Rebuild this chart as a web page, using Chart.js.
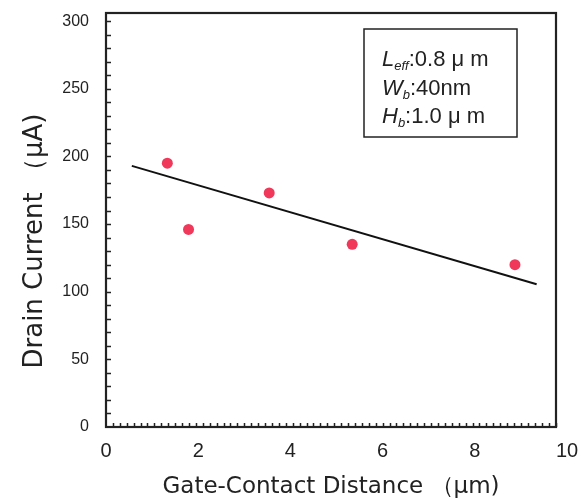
<!DOCTYPE html>
<html>
<head>
<meta charset="utf-8">
<script src="https://cdn.jsdelivr.net/npm/chart.js@4"></script>
<style>
  html, body { margin: 0; padding: 0; background: #fff; }
</style>
</head>
<body>
<canvas id="currentChart" width="582" height="500"></canvas>
<script>
// measured points
const distance = [1.33, 1.79, 3.54, 5.34, 8.87];
const current = [195, 146, 173, 135, 120];

// fitted line, end points only
const fitDistance = [0.56, 9.34];
const fitCurrent = [193, 105.5];

// axis ticks
const xTicks = [0, 2, 4, 6, 8, 10];
const yTicks = [0, 50, 100, 150, 200, 250, 300];
const xMinorStep = 0.15;
const yMinorStep = 10;

const xTitle = 'Gate-Contact Distance （μm)';
const yTitle = 'Drain Current （μA)';

// condition box: main letter, subscript, rest
const noteLines = [
  ['L', 'eff', ':0.8 μ m'],
  ['W', 'b', ':40nm'],
  ['H', 'b', ':1.0 μ m']
];

// frame + small inward ticks
const frame = {
  id: 'frame',
  beforeDatasetsDraw(chart) {
    const { ctx, chartArea: a, scales } = chart;
    ctx.save();
    ctx.strokeStyle = '#222';
    ctx.lineWidth = 1.5;
    ctx.beginPath();
    const nx = Math.floor(scales.x.max / xMinorStep + 1e-6);
    for (let i = 1; i <= nx; i++) {
      const px = Math.round(scales.x.getPixelForValue(i * xMinorStep)) + 0.5;
      ctx.moveTo(px, a.bottom);
      ctx.lineTo(px, a.bottom - 4);
    }
    const ny = Math.floor(scales.y.max / yMinorStep + 1e-6);
    for (let i = 1; i <= ny; i++) {
      const py = Math.round(scales.y.getPixelForValue(i * yMinorStep)) + 0.5;
      ctx.moveTo(a.left, py);
      ctx.lineTo(a.left + 5, py);
    }
    ctx.stroke();
    ctx.lineWidth = 2.2;
    ctx.strokeRect(a.left, a.top, a.right - a.left, a.bottom - a.top);
    ctx.restore();
  }
};

const labels = {
  id: 'labels',
  afterDraw(chart) {
    const { ctx, chartArea: a } = chart;
    ctx.save();
    ctx.fillStyle = '#222';

    // y axis title
    ctx.translate(35, (a.top + a.bottom) / 2 + 21);
    ctx.rotate(-Math.PI / 2);
    ctx.textAlign = 'center';
    ctx.textBaseline = 'middle';
    ctx.font = "26px 'DejaVu Sans'";
    ctx.fillText(yTitle, 0, 0);
    ctx.setTransform(1, 0, 0, 1, 0, 0);

    // condition box
    const bx = a.right - 192, by = a.top + 16;
    ctx.strokeStyle = '#222';
    ctx.lineWidth = 1.5;
    ctx.strokeRect(bx, by, 153, 108);
    ctx.textAlign = 'left';
    ctx.textBaseline = 'alphabetic';
    noteLines.forEach((ln, i) => {
      let x = bx + 18;
      const y = by + 37 + i * 28.5;
      ctx.font = "italic 22px 'Liberation Sans'";
      ctx.fillText(ln[0], x, y);
      x += ctx.measureText(ln[0]).width;
      ctx.font = "italic 13px 'Liberation Sans'";
      ctx.fillText(ln[1], x, y + 4);
      x += ctx.measureText(ln[1]).width;
      ctx.font = "22px 'Liberation Sans'";
      ctx.fillText(ln[2], x, y);
    });
    ctx.restore();
  }
};

new Chart(document.getElementById('currentChart'), {
  type: 'scatter',
  data: {
    datasets: [
      {
        label: 'Measured',
        data: distance.map((d, i) => ({ x: d, y: current[i] })),
        backgroundColor: '#f0385a',
        borderColor: '#f0385a',
        pointRadius: 5.5,
        pointBorderWidth: 0
      },
      {
        label: 'Fit',
        data: fitDistance.map((d, i) => ({ x: d, y: fitCurrent[i] })),
        showLine: true,
        borderColor: '#111',
        borderWidth: 2,
        pointRadius: 0
      }
    ]
  },
  options: {
    responsive: false,
    animation: false,
    devicePixelRatio: 1,
    layout: { padding: { top: 13, right: 26, bottom: 0, left: 0 } },
    plugins: {
      legend: { display: false },
      tooltip: { enabled: false }
    },
    scales: {
      x: {
        type: 'linear',
        min: 0,
        max: 9.76,
        afterBuildTicks: s => { s.ticks = xTicks.map(v => ({ value: v })); },
        afterFit: s => { s.height = 73; s.paddingLeft = 0; s.paddingRight = 0; },
        grid: { display: false, drawTicks: false },
        border: { display: false },
        ticks: {
          autoSkip: false,
          maxRotation: 0,
          padding: 12,
          color: '#222',
          font: { family: 'Liberation Sans', size: 20 }
        },
        title: {
          display: true,
          text: xTitle,
          color: '#222',
          font: { family: 'DejaVu Sans', size: 23, lineHeight: 1.1 },
          padding: { top: 0, bottom: 0 }
        }
      },
      y: {
        min: 0,
        max: 306,
        afterBuildTicks: s => { s.ticks = yTicks.map(v => ({ value: v })); },
        afterFit: s => { s.width = 106; s.paddingTop = 0; s.paddingBottom = 0; },
        grid: { display: false, drawTicks: false },
        border: { display: false },
        ticks: {
          padding: 17,
          color: '#222',
          font: { family: 'Liberation Sans', size: 16 }
        }
      }
    }
  },
  plugins: [frame, labels]
});
</script>
</body>
</html>
